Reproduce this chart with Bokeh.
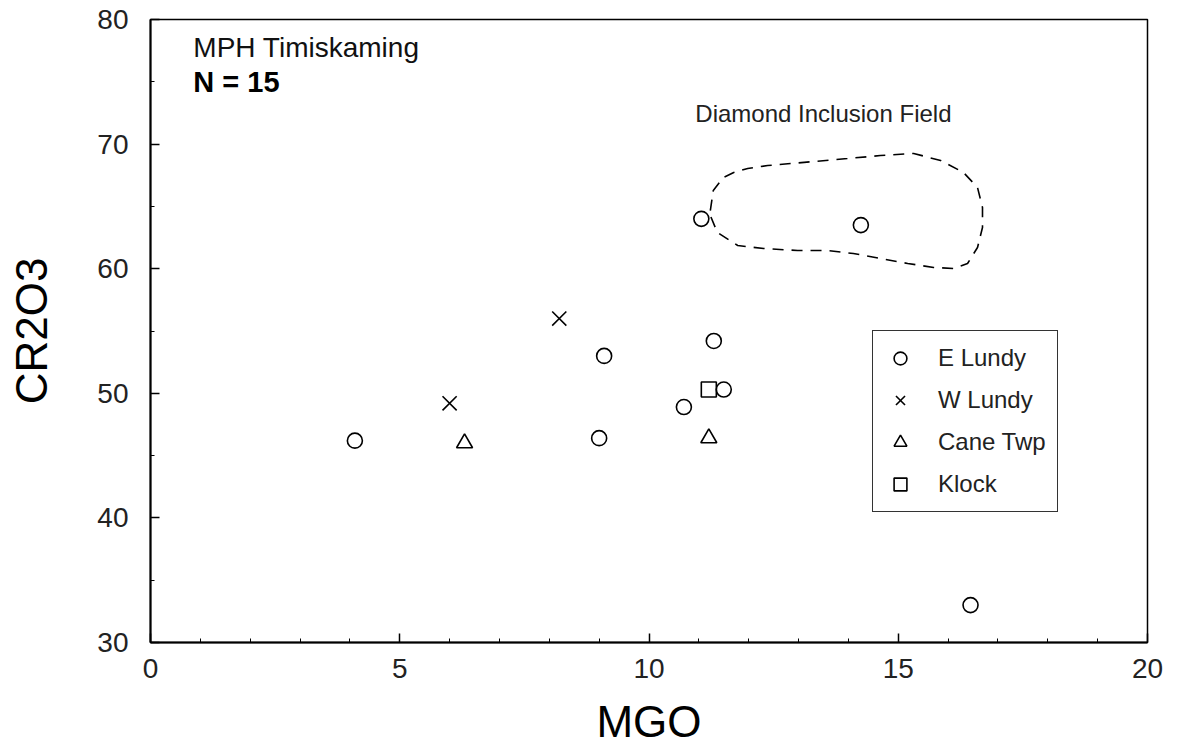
from bokeh.plotting import figure
from bokeh.models import (Range1d, Legend, LegendItem, Label, FixedTicker)
from bokeh.embed import file_html
from bokeh.resources import INLINE

# ---- data ----
e_lundy_mgo = [4.1, 9.0, 9.1, 10.7, 11.3, 11.5, 11.05, 14.25, 16.45]
e_lundy_cr = [46.2, 46.4, 53.0, 48.9, 54.2, 50.3, 64.0, 63.5, 33.0]
w_lundy_mgo = [6.0, 8.2]
w_lundy_cr = [49.2, 56.0]
cane_mgo = [6.3, 11.2]
cane_cr = [46.0, 46.4]
klock_mgo = [11.2]
klock_cr = [50.3]

field_mgo = [11.23, 11.29, 11.49, 11.70, 11.98, 12.38, 12.84, 13.30, 13.98,
             14.64, 15.31, 15.85, 16.31, 16.59, 16.69, 16.69, 16.59, 16.39,
             16.11, 15.71, 15.19, 14.64, 14.10, 13.58, 12.98, 12.30, 11.78,
             11.37, 11.23]
field_cr = [64.67, 66.28, 67.32, 67.72, 68.04, 68.28, 68.44, 68.60, 68.84,
            69.08, 69.25, 68.68, 67.72, 66.52, 64.91, 63.31, 61.70, 60.42,
            60.02, 60.10, 60.42, 60.82, 61.22, 61.46, 61.46, 61.62, 61.86,
            62.91, 64.27]

x_ticks = [0, 5, 10, 15, 20]
y_ticks = [30, 40, 50, 60, 70, 80]
x_minor = list(range(0, 21))
y_minor = list(range(30, 81, 5))

FONT = "Liberation Sans"

p = figure(width=1179, height=755, output_backend="svg", toolbar_location=None,
           x_range=Range1d(0, 20), y_range=Range1d(30, 80),
           min_border_left=150, min_border_right=32, min_border_top=19,
           min_border_bottom=113, background_fill_color="white",
           border_fill_color="white")

p.grid.visible = False
p.outline_line_color = "black"
p.outline_line_width = 1.5

p.xaxis.ticker = FixedTicker(ticks=x_ticks, minor_ticks=x_minor)
p.yaxis.ticker = FixedTicker(ticks=y_ticks, minor_ticks=y_minor)

for ax in (p.xaxis[0], p.yaxis[0]):
    ax.axis_line_width = 2
    ax.axis_line_color = "black"
    ax.major_tick_in = 9
    ax.major_tick_out = 0
    ax.minor_tick_in = 4
    ax.minor_tick_out = 0
    ax.major_tick_line_width = 1.5
    ax.minor_tick_line_width = 1
    ax.major_label_text_font = FONT
    ax.major_label_text_font_size = "28px"
    ax.major_label_text_color = "#222222"
    ax.axis_label_text_font = FONT
    ax.axis_label_text_font_size = "44px"
    ax.axis_label_text_font_style = "normal"
    ax.axis_label_text_color = "black"

p.xaxis.axis_label = "MGO"
p.yaxis.axis_label = "CR2O3"
p.xaxis.major_label_standoff = 16
p.xaxis.axis_label_standoff = 16
p.yaxis.major_label_standoff = 22
p.yaxis.axis_label_standoff = 38

# dashed field boundary
p.line(field_mgo, field_cr, line_color="black", line_width=1.6,
       line_dash="11 8")

r_e = p.scatter(e_lundy_mgo, e_lundy_cr, marker="circle", size=15,
                fill_color=None, line_color="black", line_width=1.6)
r_w = p.scatter(w_lundy_mgo, w_lundy_cr, marker="x", size=20,
                line_color="black", line_width=1.6)
r_c = p.scatter(cane_mgo, cane_cr, marker="triangle", size=16,
                fill_color=None, line_color="black", line_width=1.6)
r_k = p.scatter(klock_mgo, klock_cr, marker="square", size=15,
                fill_color=None, line_color="black", line_width=1.6)

legend = Legend(items=[
    LegendItem(label="E Lundy", renderers=[r_e]),
    LegendItem(label="W Lundy", renderers=[r_w]),
    LegendItem(label="Cane Twp", renderers=[r_c]),
    LegendItem(label="Klock", renderers=[r_k]),
], location=(722, 130), margin=0, padding=11, spacing=10,
    glyph_width=32, glyph_height=32, label_height=32, label_standoff=22,
    label_text_font=FONT, label_text_font_size="24px",
    label_text_color="#222222",
    border_line_color="black", border_line_width=1, border_line_alpha=0.8,
    background_fill_color="white", background_fill_alpha=1)
p.add_layout(legend, "center")

p.add_layout(Label(x=0.86, y=77.75, text="MPH Timiskaming",
                   text_font=FONT, text_font_size="28px",
                   text_baseline="middle", text_color="#111111"))
p.add_layout(Label(x=0.86, y=75.0, text="N = 15",
                   text_font=FONT, text_font_size="29px",
                   text_font_style="bold",
                   text_baseline="middle", text_color="black"))
p.add_layout(Label(x=10.93, y=72.46, text="Diamond Inclusion Field",
                   text_font=FONT, text_font_size="24px",
                   text_baseline="middle", text_color="#222222"))

open("out.html", "w").write(file_html(p, INLINE))
